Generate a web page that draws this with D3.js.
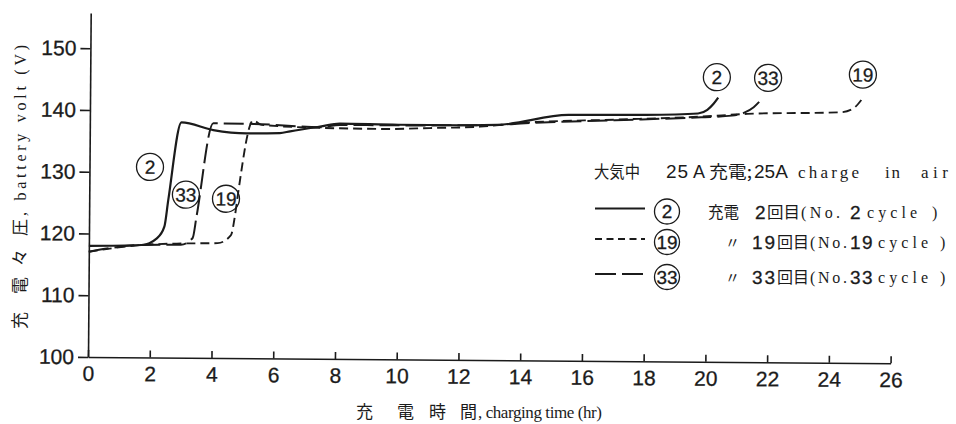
<!DOCTYPE html>
<html>
<head>
<meta charset="utf-8">
<script src="https://cdn.jsdelivr.net/npm/d3@7"></script>
<style>
  body { margin: 0; background: #fff; }
  svg { display: block; }
</style>
</head>
<body>
<svg width="956" height="424"></svg>
<script>
// charging time (hr) vs battery volt (V)
const xTicks = [0, 2, 4, 6, 8, 10, 12, 14, 16, 18, 20, 22, 24, 26]
const yTicks = [100, 110, 120, 130, 140, 150]

const cycle2 = [
  [0, 118.0], [1.7, 118.2], [2.2, 119.3], [2.44, 121.2], [2.56, 125.5], [2.97, 138.1],
  [4.0, 136.9], [5.08, 136.4], [6.16, 136.5], [6.49, 136.8], [7.46, 137.6], [8.1, 138.1],
  [10, 138.0], [12, 138.0], [13.2, 138.1], [15.5, 139.8], [18, 139.9], [19.7, 140.2],
  [20.0, 140.8], [20.2, 141.8], [20.35, 142.8]
]
const cycle19 = [
  [0, 117.05], [1.7, 118.2], [3.0, 118.5], [4.17, 118.6], [4.6, 119.9], [4.72, 122.9],
  [4.82, 126.7], [5.29, 138.5], [5.57, 137.8], [7.45, 137.4], [9.6, 137.3], [11.0, 137.5],
  [12.65, 137.8], [14.1, 138.5], [17, 139.1], [19.8, 139.7], [21.3, 140.2], [24.35, 140.6],
  [24.75, 141.3], [25.0, 142.7]
]
const cycle33 = [
  [0, 117.05], [1.7, 118.2], [2.98, 118.3], [3.36, 119.4], [3.48, 122.9], [4.0, 138.0],
  [5.29, 137.95], [7.46, 137.5], [8.1, 137.9], [10, 137.9], [12, 138.0], [13.2, 138.1],
  [14.1, 138.4], [17, 139.0], [19.8, 139.6], [20.8, 139.9], [21.2, 140.4], [21.5, 141.3],
  [21.72, 142.4]
]

// circled cycle numbers placed on the plot (data units)
const tagLabels = ["2", "33", "19", "2", "33", "19"]
const tagX = [1.96, 3.13, 4.43, 20.3, 21.96, 25.03]
const tagY = [130.85, 126.4, 125.8, 146.1, 146.05, 146.7]

const legendTitle = ["大気中", "25", "A", "充電;", "25A", "charge", "in", "air"]
const legendCycles = ["2", "19", "33"]
const legendPrefix = ["充電", "〃", "〃"]

const ink = "#1b1b1b"
const narrow = "'Liberation Sans Narrow', 'Arial Narrow', 'Liberation Sans', sans-serif"
const serif = "'Liberation Serif', 'DejaVu Serif', serif"
const jp = "'Noto Sans CJK JP', sans-serif"

const svg = d3.select("svg")

const x = d3.scaleLinear().domain([0, 26]).range([88, 890.6])
const y = d3.scaleLinear().domain([100, 155.7]).range([357, 13])

// the scan is turned a little, so the plot is too
const plot = svg.append("g").attr("transform", "rotate(0.45,88,357)")

const xAxis = plot.append("g")
  .attr("transform", "translate(0,357)")
  .call(d3.axisBottom(x).tickValues(xTicks).tickSize(-7).tickSizeOuter(0).tickPadding(9))
const yAxis = plot.append("g")
  .attr("transform", "translate(88,0)")
  .call(d3.axisLeft(y).tickValues(yTicks).tickSize(10).tickSizeOuter(0).tickPadding(4))

;[xAxis, yAxis].forEach(a => {
  a.attr("font-family", narrow).attr("font-size", 21)
  a.selectAll("path, line").attr("stroke", ink).attr("stroke-width", 1.6)
  a.selectAll("text").attr("fill", ink).attr("stroke", ink).attr("stroke-width", 0.3)
})

const line = d3.line()
  .x(d => x(d[0]))
  .y(d => y(d[1]))
  .curve(d3.curveMonotoneX)

const series = [
  { data: cycle33, dash: "20,6", width: 2 },
  { data: cycle19, dash: "9,5", width: 1.9 },
  { data: cycle2, dash: null, width: 2.2 }
]

plot.selectAll(".curve")
  .data(series)
  .enter()
  .append("path")
  .attr("class", "curve")
  .attr("d", d => line(d.data))
  .attr("fill", "none")
  .attr("stroke", ink)
  .attr("stroke-width", d => d.width)
  .attr("stroke-dasharray", d => d.dash)

const tags = plot.selectAll(".tag")
  .data(tagLabels.map((t, i) => ({ t, x: tagX[i], y: tagY[i] })))
  .enter()
  .append("g")
  .attr("class", "tag")
  .attr("transform", d => `translate(${x(d.x)},${y(d.y)})`)
tags.append("circle")
  .attr("r", 13.5)
  .attr("fill", "none")
  .attr("stroke", ink)
  .attr("stroke-width", 1.3)
tags.append("text")
  .attr("text-anchor", "middle")
  .attr("dy", "0.36em")
  .attr("font-family", narrow)
  .attr("font-size", 19)
  .attr("fill", ink)
  .attr("stroke", ink)
  .attr("stroke-width", 0.3)
  .text(d => d.t)

// axis titles
const xTitle = svg.append("text")
  .attr("y", 418)
  .attr("fill", ink)
  .attr("font-size", 17)
xTitle.append("tspan").attr("x", 356).attr("font-family", jp).text("充")
xTitle.append("tspan").attr("x", 397).attr("font-family", jp).text("電")
xTitle.append("tspan").attr("x", 429).attr("font-family", jp).text("時")
xTitle.append("tspan").attr("x", 460).attr("font-family", jp).text("間")
svg.append("text")
  .attr("x", 478).attr("y", 418)
  .attr("fill", ink)
  .attr("font-family", serif)
  .attr("font-size", 17)
  .attr("textLength", 124)
  .attr("lengthAdjust", "spacing")
  .text(", charging time (hr)")

const yTitle = svg.append("g").attr("transform", "translate(26,0) rotate(-90)")
;[["充", 329], ["電", 294], ["々", 266], ["圧", 236]].forEach(([t, p]) => {
  yTitle.append("text").attr("x", -p).attr("fill", ink)
    .attr("font-family", jp).attr("font-size", 17).text(t)
})
yTitle.append("text")
  .attr("x", -216).attr("fill", ink)
  .attr("font-family", serif).attr("font-size", 16)
  .attr("textLength", 171).attr("lengthAdjust", "spacing")
  .text(", battery volt (V)")

// legend
const lg = svg.append("g").attr("fill", ink)
const titleX = [594, 666, 693, 709, 754, 798, 885, 921]
const titleW = [46, null, null, 43, null, 61, 15, 27]
const titleFont = [jp, narrow, narrow, jp, narrow, serif, serif, serif]
const titleSize = [17, 19, 18, 17, 19, 17, 17, 17]
const titleAdjust = ["spacingAndGlyphs", null, null, "spacingAndGlyphs", null, "spacing", "spacing", "spacing"]
legendTitle.forEach((t, i) => {
  lg.append("text")
    .attr("x", titleX[i]).attr("y", 178)
    .attr("font-family", titleFont[i]).attr("font-size", titleSize[i])
    .attr("textLength", titleW[i]).attr("lengthAdjust", titleAdjust[i])
    .attr("letter-spacing", i === 1 ? 1 : null)
    .text(t)
})

const rowY = [211.5, 242, 277]
const rowDash = [null, "7,4.5", "21,6"]
legendCycles.forEach((c, i) => {
  const cy = rowY[i]
  lg.append("line")
    .attr("x1", 595).attr("x2", 645)
    .attr("y1", cy - 3).attr("y2", cy - 3)
    .attr("stroke", ink).attr("stroke-width", 2)
    .attr("stroke-dasharray", rowDash[i])
  lg.append("circle")
    .attr("cx", 667).attr("cy", cy).attr("r", 12.5)
    .attr("fill", "none").attr("stroke", ink).attr("stroke-width", 1.3)
  lg.append("text")
    .attr("x", 667).attr("y", cy).attr("dy", "0.36em")
    .attr("text-anchor", "middle")
    .attr("font-family", narrow).attr("font-size", 19)
    .attr("stroke", ink).attr("stroke-width", 0.3)
    .text(c)

  const base = cy + 6
  if (i === 0) {
    lg.append("text").attr("x", 708).attr("y", base).attr("font-family", jp)
      .attr("font-size", 16).attr("textLength", 31).attr("lengthAdjust", "spacingAndGlyphs").text(legendPrefix[i])
  } else {
    lg.append("text").attr("x", 725).attr("y", base).attr("font-family", jp)
      .attr("font-size", 15).text(legendPrefix[i])
  }
  const numX = i === 0 ? 755 : 752
  lg.append("text").attr("x", numX).attr("y", base + 1).attr("font-family", narrow)
    .attr("font-size", 19).attr("letter-spacing", 2)
    .attr("stroke", ink).attr("stroke-width", 0.3).text(c)
  lg.append("text").attr("x", i === 0 ? 767 : 777).attr("y", base).attr("font-family", jp)
    .attr("font-size", 16).attr("textLength", i === 0 ? 33 : 32).attr("lengthAdjust", "spacingAndGlyphs").text("回目")
  lg.append("text").attr("x", i === 0 ? 801 : 810).attr("y", base).attr("font-family", serif)
    .attr("font-size", 16).attr("textLength", i === 0 ? 39 : 37).attr("lengthAdjust", "spacing").text("(No.")
  lg.append("text").attr("x", 850).attr("y", base + 1).attr("font-family", narrow)
    .attr("font-size", 19).attr("letter-spacing", 1.5)
    .attr("stroke", ink).attr("stroke-width", 0.3).text(c)
  lg.append("text").attr("x", i === 0 ? 867 : 878).attr("y", base).attr("font-family", serif)
    .attr("font-size", 16).attr("textLength", 50).attr("lengthAdjust", "spacing").text("cycle")
  lg.append("text").attr("x", i === 0 ? 932 : 940).attr("y", base).attr("font-family", serif)
    .attr("font-size", 16).text(")")
})
</script>
</body>
</html>
